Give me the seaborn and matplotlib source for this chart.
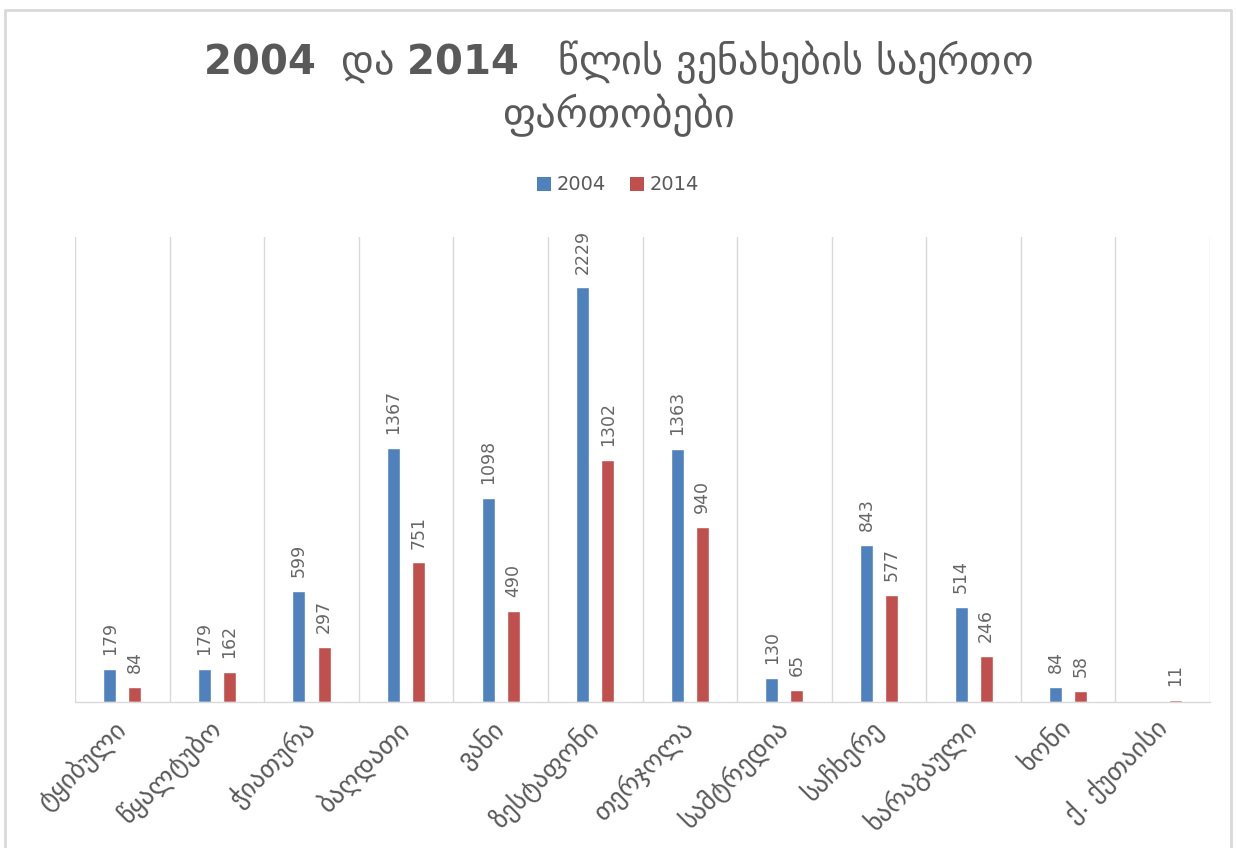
import numpy as np
import pandas as pd
import matplotlib
matplotlib.use("Agg")
import matplotlib.pyplot as plt
import seaborn as sns
from matplotlib.patches import Patch
from matplotlib.lines import Line2D

categories = ["ტყიბული", "წყალტუბო", "ჭიათურა", "ბაღდათი", "ვანი", "ზესტაფონი",
              "თერჯოლა", "სამტრედია", "საჩხერე", "ხარაგაული", "ხონი", "ქ. ქუთაისი"]
values_2004 = [179, 179, 599, 1367, 1098, 2229, 1363, 130, 843, 514, 84, np.nan]
values_2014 = [84, 162, 297, 751, 490, 1302, 940, 65, 577, 246, 58, 11]
series = ["2004", "2014"]
colors = ["#4F81BD", "#C0504D"]
title_line1 = r"$\mathbf{2004}$  და $\mathbf{2014}$   წლის ვენახების საერთო"
title_line2 = "ფართობები"

df = pd.DataFrame({
    "category": categories * 2,
    "year": [series[0]] * len(categories) + [series[1]] * len(categories),
    "value": values_2004 + values_2014,
})

sns.set_theme(style="white")
plt.rcParams['font.family'] = ['DejaVu Sans']
plt.rcParams['mathtext.fontset'] = 'dejavusans'

fig = plt.figure(figsize=(12.36, 8.48), dpi=100)
ax = fig.add_axes([0.0607, 0.172, 0.9183, 0.5485])

sns.barplot(data=df, x="category", y="value", hue="year", hue_order=series,
            palette=colors, width=0.53, gap=0.48, ax=ax, legend=False,
            saturation=1, errorbar=None)

ax.set_ylim(0, 2500)
ax.set_xlim(-0.5, len(categories) - 0.5)
ax.set_yticks([])
ax.set_xlabel("")
ax.set_ylabel("")

ax.set_xticks(np.arange(-0.5, len(categories), 1.0), minor=True)
ax.grid(True, which="minor", axis="x", color="#D9D9D9", linewidth=1)
ax.grid(False, which="major")
ax.tick_params(axis="x", which="both", length=0, pad=16)
ax.set_xticks(range(len(categories)))
ax.set_xticklabels(categories, rotation=45, ha="right", va="center",
                   rotation_mode="anchor", fontsize=19, color="#595959")

for s in ["top", "right", "left"]:
    ax.spines[s].set_visible(False)
ax.spines["bottom"].set_color("#D9D9D9")
ax.spines["bottom"].set_linewidth(1)

for container in ax.containers:
    for bar in container:
        h = bar.get_height()
        if np.isnan(h) or h <= 0:
            continue
        ax.annotate(f"{int(round(h))}", (bar.get_x() + bar.get_width() / 2, h),
                    xytext=(0, 10), textcoords="offset points",
                    rotation=90, ha="center", va="bottom",
                    fontsize=12.5, color="#666666")

fig.text(0.5, 1 - 62 / 848, title_line1, ha="center", va="center", fontsize=29,
         color="#595959")
fig.text(0.5, 1 - 115 / 848, title_line2, ha="center", va="center", fontsize=29,
         color="#595959")

handles = [Patch(facecolor=c, edgecolor="none") for c in colors]
fig.legend(handles, series, loc="center", bbox_to_anchor=(0.5, 1 - 185 / 848), ncol=2,
           frameon=False, fontsize=14, labelcolor="#595959",
           handlelength=0.75, handleheight=0.75, handletextpad=0.3, columnspacing=1.2)

W, H = 1236, 848
bx = [5 / W, 5 / W, 1231 / W, 1231 / W]
by = [0, 1 - 10 / H, 1 - 10 / H, 0]
fig.add_artist(Line2D(bx, by, transform=fig.transFigure, color="#D9D9D9", linewidth=2))

fig.savefig("out.png", dpi=100)
